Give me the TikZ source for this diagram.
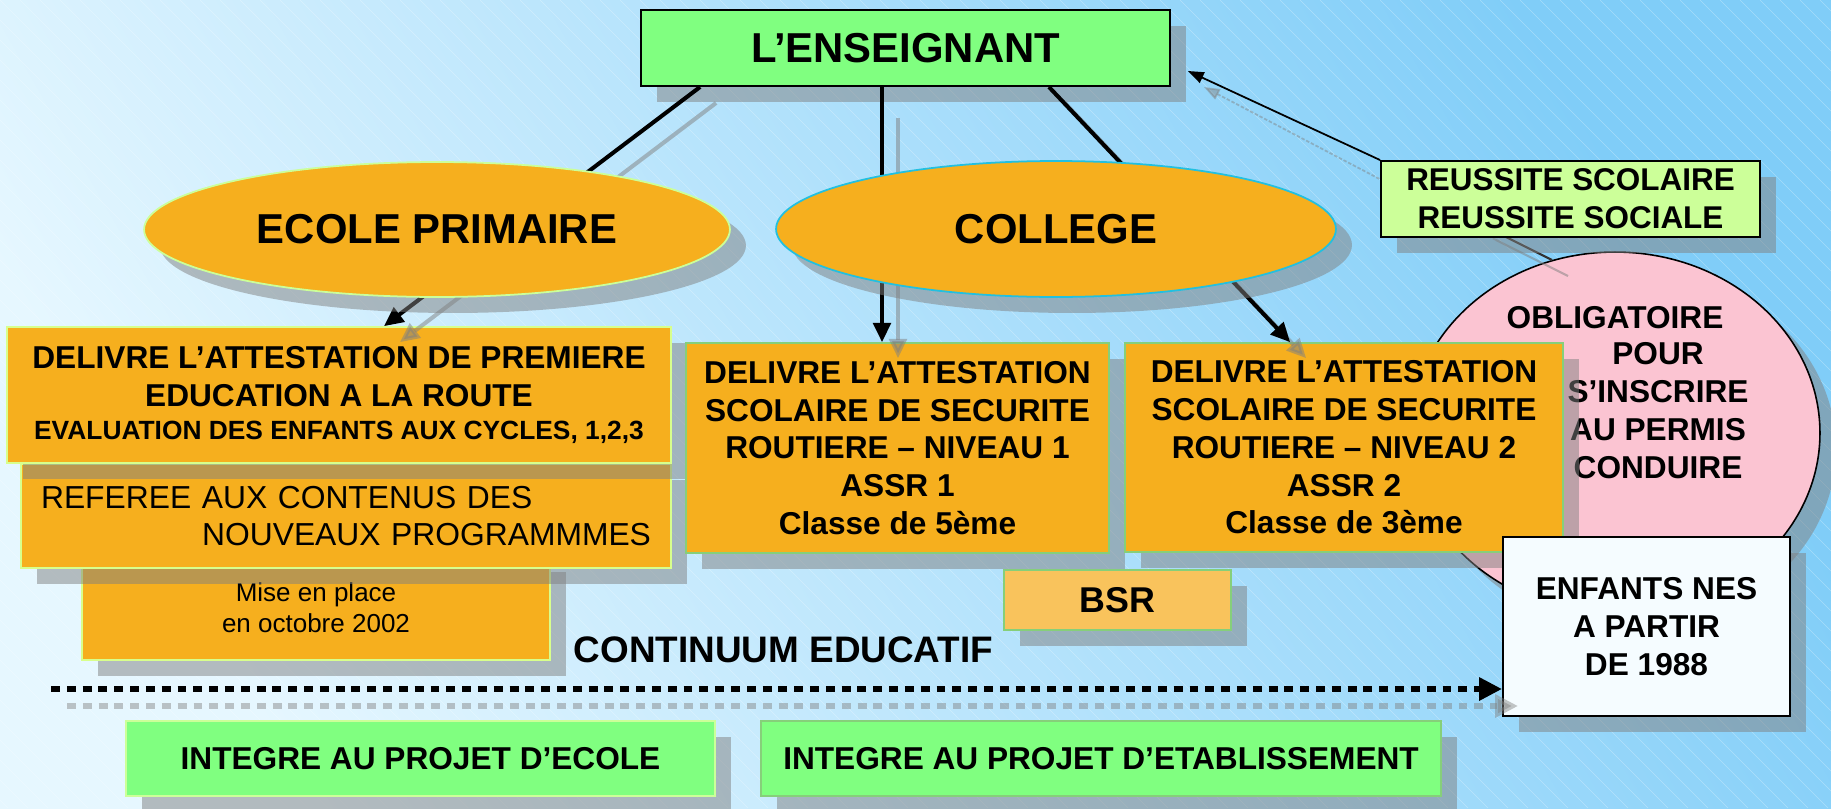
\documentclass[tikz,border=0pt]{standalone}
\usepackage{fontspec}
\setmainfont{Liberation Sans}
\usetikzlibrary{shapes.geometric,arrows.meta,shadows}
\definecolor{bgA}{HTML}{E6F7FF}
\definecolor{bgB}{HTML}{B6E3FB}
\definecolor{bgC}{HTML}{80CDF8}
\definecolor{orng}{HTML}{F6AF1E}
\definecolor{grn}{HTML}{80FF80}
\definecolor{lgrn}{HTML}{CCFF99}
\definecolor{pnk}{HTML}{FBC4D2}
\definecolor{bsrc}{HTML}{F9C35C}
\definecolor{wht}{HTML}{F5FCFF}
\definecolor{edgeY}{HTML}{D8FF8C}
\definecolor{edgeG}{HTML}{86CF7A}
\definecolor{edgeC}{HTML}{22C0E0}
\newcommand\ftBig{\fontsize{23.8}{28}\selectfont\bfseries}
\newcommand\ftMain{\fontsize{18}{21.5}\selectfont\bfseries}
\newcommand\ftEval{\fontsize{15}{18}\selectfont\bfseries}
\newcommand\ftReg{\fontsize{18.1}{21.5}\selectfont}
\newcommand\ftSmall{\fontsize{14.8}{17.6}\selectfont}
\newcommand\ftCont{\fontsize{21}{25}\selectfont\bfseries}
\newcommand\ftBsr{\fontsize{20.4}{24}\selectfont\bfseries}
\newcommand\ftReu{\fontsize{17.9}{21.5}\selectfont\bfseries}
\tikzset{
  shad/.style={drop shadow={shadow xshift=0.32cm, shadow yshift=-0.32cm, opacity=0.5, fill=black!50}},
  base box/.style={rectangle, inner sep=0pt, line width=1pt, shad, align=center},
  obox/.style={base box, fill=orng, draw=edgeY},
  abox/.style={base box, fill=orng, draw=edgeG},
  gbox/.style={base box, fill=grn},
  kbox/.style={base box, draw=black, line width=1.1pt},
  oval/.style={ellipse, inner sep=0pt, fill=orng, line width=1pt, shad, font=\ftBig},
  conn/.style={line width=2.3pt, -{Triangle[length=11pt,width=10pt]}},
  connsh/.style={conn, draw=black!50, opacity=0.5},
  thinconn/.style={line width=1pt, -{Triangle[length=9pt,width=6.5pt]}},
  dotline/.style={line width=3.4pt, dash pattern=on 5.1pt off 3.9pt, -{Triangle[length=13pt,width=12.5pt]}},
}
\begin{document}
\begin{tikzpicture}[x=0.02cm, y=-0.02cm]
\useasboundingbox (0,0) rectangle (1831,808);
% background
\shade[top color=bgA, middle color=bgB, bottom color=bgC, shading angle=120] (0,0) rectangle (1831,808);
\begin{scope}
  \clip (0,0) rectangle (1831,808);
  \foreach \i in {-800,-780,...,1820}
    \draw[white, opacity=0.3, line width=0.35pt] (\i,0) -- ++(808,808);
\end{scope}

% pink ellipse
\node[ellipse, inner sep=0pt, minimum width=8.2cm, minimum height=7.24cm, fill=pnk, draw=black, line width=0.9pt, shad] (obl) at (1615,433) {};
\node[font=\ftMain, anchor=base] (oblA) at (1615,328) {OBLIGATOIRE};
\node[font=\ftMain, align=center] (oblB) at (1658,410.5) {POUR\\S’INSCRIRE\\AU PERMIS\\CONDUIRE};

% left stacked boxes
\node[obox, minimum width=9.36cm, minimum height=2.08cm, font=\ftSmall] (box3) at (316,608) {Mise en place\\en octobre 2002};
\node[obox, minimum width=13cm, minimum height=2.08cm, font=\ftReg, text width=12.2cm, align=left] (box2) at (346,516) {REFEREE AUX CONTENUS DES\\\hspace*{\fill}NOUVEAUX PROGRAMMMES};
\node[obox, minimum width=13.28cm, minimum height=2.72cm, font=\ftMain] (box1) at (339,395) {DELIVRE L’ATTESTATION DE PREMIERE\\EDUCATION A LA ROUTE\\[-3pt]{\ftEval EVALUATION DES ENFANTS AUX CYCLES, 1,2,3}};

% college boxes
\node[abox, minimum width=8.46cm, minimum height=4.2cm, font=\ftMain] (assr1) at (897.5,448) {DELIVRE L’ATTESTATION\\SCOLAIRE DE SECURITE\\ROUTIERE – NIVEAU 1\\ASSR 1\\Classe de 5ème};
\node[abox, minimum width=8.76cm, minimum height=4.18cm, font=\ftMain] (assr2) at (1344,447.5) {DELIVRE L’ATTESTATION\\SCOLAIRE DE SECURITE\\ROUTIERE – NIVEAU 2\\ASSR 2\\Classe de 3ème};
\node[abox, fill=bsrc, minimum width=4.54cm, minimum height=1.2cm, font=\ftBsr] (bsr) at (1117.5,600) {BSR};

% enfants
\node[kbox, fill=wht, minimum width=5.74cm, minimum height=3.58cm, font=\ftMain] (enf) at (1646.5,626.5) {ENFANTS NES\\A PARTIR\\DE 1988};

% bottom boxes
\node[gbox, draw=lgrn, minimum width=11.78cm, minimum height=1.5cm, font=\ftMain] (int1) at (420.5,758.5) {INTEGRE AU PROJET D’ECOLE};
\node[gbox, draw=edgeG, minimum width=13.6cm, minimum height=1.5cm, font=\ftMain] (int2) at (1101,758.5) {INTEGRE AU PROJET D’ETABLISSEMENT};
\node[font=\ftCont, anchor=base] (cont) at (783.5,662) {CONTINUUM EDUCATIF};

% dotted arrow
\coordinate (ds) at (51,689);
\begin{scope}[transform canvas={shift={(16,17)}}]
  \draw[dotline, draw=black!50, opacity=0.45] (ds) -- (ds -| enf.west);
\end{scope}
\draw[dotline] (ds) -- (ds -| enf.west);

% teacher box
\node[kbox, fill=grn, minimum width=10.58cm, minimum height=1.52cm, font=\ftBig] (ens) at (905.5,48) {L’ENSEIGNANT};

% arrows from teacher
\coordinate (s1) at ([xshift=1.2cm]ens.south west);
\coordinate (t1) at ([xshift=0.9cm]box1.north);
\coordinate (s2) at ([xshift=-0.47cm]ens.south);
\coordinate (s3) at ([xshift=-2.44cm]ens.south east);
\coordinate (t3) at ([xshift=3.32cm]assr2.north west);
\begin{scope}[transform canvas={shift={(16,16)}}]
  \draw[connsh] (s1) -- (t1);
  \draw[connsh] ([yshift=-0.3cm]s2) -- (s2 |- assr1.north);
  \draw[connsh] (s3) -- (t3);
\end{scope}
\draw[conn] (s1) -- (t1);
\draw[conn] (s2) -- (s2 |- assr1.north);
\draw[conn] (s3) -- (t3);

% ellipses
\node[oval, draw=lgrn, minimum width=11.72cm, minimum height=2.7cm] (ecole) at (437,229.5) {ECOLE PRIMAIRE};
\node[oval, draw=edgeC, minimum width=11.2cm, minimum height=2.72cm] (college) at (1056,229) {COLLEGE};

% reussite
\coordinate (reuin) at (1480,224);
\coordinate (enstip) at ([xshift=0.34cm, yshift=-0.46cm]ens.east);
\begin{scope}[transform canvas={shift={(16,16)}}]
  \draw[line width=1.2pt, black!50, opacity=0.5] (obl.110) -- (reuin);
  \draw[thinconn, draw=black!50, opacity=0.45, dash pattern=on 2pt off 1pt] (reuin) -- (enstip);
\end{scope}
\draw[line width=1.2pt, black!80] (obl.110) -- (reuin);
\node[kbox, fill=lgrn, minimum width=7.58cm, minimum height=1.52cm, font=\ftReu] (reu) at (1570.5,199) {REUSSITE SCOLAIRE\\REUSSITE SOCIALE};
\draw[thinconn] (reu.north west) -- (enstip);
\end{tikzpicture}
\end{document}
